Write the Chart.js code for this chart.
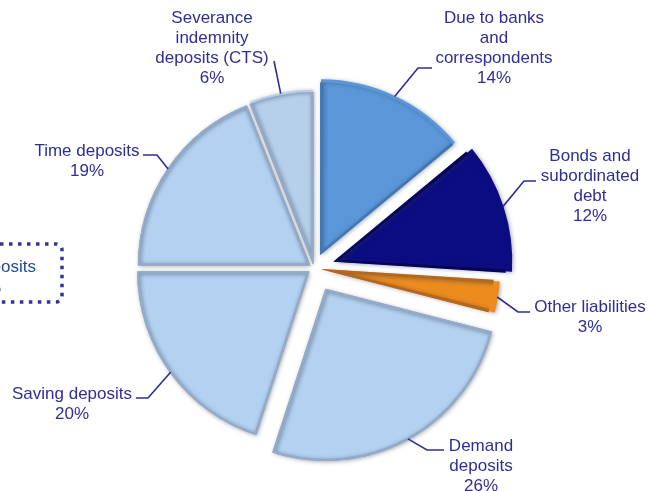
<!DOCTYPE html>
<html>
<head>
<meta charset="utf-8">
<script src="https://cdn.jsdelivr.net/npm/chart.js@4/dist/chart.umd.min.js"></script>
<style>
    html, body { margin: 0; padding: 0; background: #fff; }
</style>
</head>
<body>
<canvas id="pieChart" width="648" height="491"></canvas>
<script>
// data
const categories = ['Due to banks and correspondents', 'Bonds and subordinated debt', 'Other liabilities',
    'Demand deposits', 'Saving deposits', 'Time deposits', 'Severance indemnity deposits (CTS)'];
const shares = [14, 12, 3, 26, 20, 19, 6];
const labelLines = [
    ['Due to banks', 'and', 'correspondents'],
    ['Bonds and', 'subordinated', 'debt'],
    ['Other liabilities'],
    ['Demand', 'deposits'],
    ['Saving deposits'],
    ['Time deposits'],
    ['Severance', 'indemnity', 'deposits (CTS)']
];
const depositIdx = [3, 4, 5, 6];

// look & layout
const sliceColors = ['#5a96d8', '#0c0c82', '#ec8c1e', '#b3d1f1', '#b3d1f1', '#b3d1f1', '#b6cfea'];
const sliceEdges = ['#4277b4', '#05055a', '#b8661a', '#93abc8', '#93abc8', '#93abc8', '#93abc8'];
const sliceShift = [15, 21, 8, 24, 6, 5, 4]; // how far each slice is pulled out, px
const labelColor = '#2e2e98';
const labelPlace = [
    {x: 494, y: 18, path: [[418, 68], [432, 68]]},
    {x: 590, y: 156, path: [[524, 181], [536, 181]]},
    {x: 590, y: 307, path: [[518, 312], [530, 312]]},
    {x: 481, y: 446, path: [[427, 450], [444, 450]]},
    {x: 72, y: 394, path: [[148, 398], [136, 398]]},
    {x: 87, y: 151, path: [[157, 155], [143, 155]]},
    {x: 212, y: 18, path: [[274, 61]]}
];

// soft shadow under the slices, a bit like the bevelled original
const sliceShadow = {
    id: 'sliceShadow',
    beforeDatasetsDraw(chart) {
        const ctx = chart.ctx;
        ctx.save();
        ctx.shadowColor = 'rgba(40, 50, 70, 0.45)';
        ctx.shadowBlur = 4;
        ctx.shadowOffsetX = 1;
        ctx.shadowOffsetY = 1;
    },
    afterDatasetsDraw(chart) {
        chart.ctx.restore();
    }
};

const outsideLabels = {
    id: 'outsideLabels',
    afterDatasetsDraw(chart) {
        const ctx = chart.ctx;
        const arcs = chart.getDatasetMeta(0).data;
        ctx.save();
        ctx.strokeStyle = labelColor;
        ctx.lineWidth = 1.6;
        ctx.fillStyle = labelColor;
        ctx.font = '17px "Liberation Sans", Arial, sans-serif';
        ctx.textAlign = 'center';
        ctx.textBaseline = 'middle';

        arcs.forEach((arc, i) => {
            const p = arc.getProps(['x', 'y', 'startAngle', 'endAngle', 'outerRadius', 'circumference'], true);
            const mid = (p.startAngle + p.endAngle) / 2;
            const t = (arc.options.offset || 0) / 4;
            const fix = 1 - Math.sin(Math.min(Math.PI, p.circumference));
            const r = p.outerRadius + t * fix + t - 1;
            const sx = p.x + Math.cos(mid) * r;
            const sy = p.y + Math.sin(mid) * r;
            const place = labelPlace[i];

            ctx.beginPath();
            ctx.moveTo(sx, sy);
            place.path.forEach(pt => ctx.lineTo(pt[0], pt[1]));
            ctx.stroke();

            const lines = labelLines[i].concat([shares[i] + '%']);
            lines.forEach((line, k) => ctx.fillText(line, place.x, place.y + k * 20));
        });

        // dotted call-out for the deposit total (cut by the left edge)
        const total = depositIdx.reduce((s, k) => s + shares[k], 0);
        ctx.strokeStyle = '#33339a';
        ctx.lineWidth = 3.5;
        ctx.setLineDash([3.5, 5.5]);
        ctx.beginPath();
        ctx.roundRect(-60, 244, 122, 58, 6);
        ctx.stroke();
        ctx.setLineDash([]);
        ctx.fillStyle = '#1f4b8e';
        ctx.fillText('Total deposits', -16, 267);
        ctx.fillText(total + '%', -16, 288);
        ctx.restore();
    }
};

new Chart(document.getElementById('pieChart'), {
    type: 'pie',
    data: {
        labels: categories,
        datasets: [{
            data: shares,
            backgroundColor: sliceColors,
            borderColor: sliceEdges,
            borderWidth: 2,
            borderAlign: 'inner',
            offset: sliceShift.map(s => s * 4)
        }]
    },
    options: {
        responsive: false,
        animation: false,
        radius: 172,
        layout: {padding: {left: 0, right: 20, top: 45, bottom: 0}},
        plugins: {
            legend: {display: false},
            tooltip: {enabled: false}
        }
    },
    plugins: [sliceShadow, outsideLabels]
});
</script>
</body>
</html>
